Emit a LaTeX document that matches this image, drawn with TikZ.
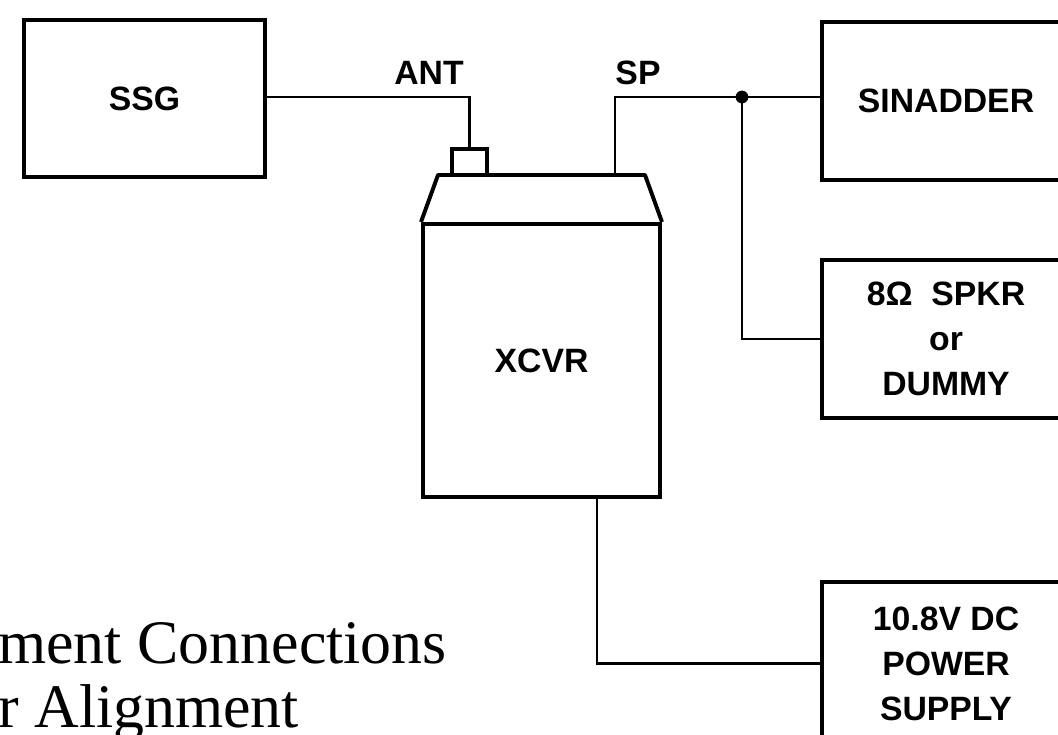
\documentclass[tikz,border=0pt]{standalone}
\usepackage{fontspec}
\setmainfont{Liberation Serif}
\setsansfont{Liberation Sans}

\begin{document}
\begin{tikzpicture}[
  x=0.025cm, y=-0.025cm,
  unit/.style={rectangle, draw, line width=3.2pt, inner sep=0pt,
               align=center, font=\sffamily\bfseries\fontsize{24}{32}\selectfont},
  wire/.style={line width=2pt},
  tag/.style={inner sep=0pt, font=\sffamily\bfseries\fontsize{24}{32}\selectfont},
  caption/.style={anchor=base west, inner sep=0pt, font=\fontsize{44}{50}\selectfont}
]
  \clip (0,0) rectangle (1058,735);
  \node[unit, minimum width=6.025cm, minimum height=3.925cm] (ssg) at (144.5,98.5) {SSG};
  \node[unit, minimum width=6.2cm, minimum height=3.95cm] (sin) at (946,101) {SINADDER};
  \node[unit, minimum width=6.2cm, minimum height=3.95cm] (spkr) at (946,339) {8Ω\ \ SPKR\\or\\DUMMY};
  \node[unit, minimum width=6.2cm, minimum height=4.075cm] (psu) at (946,663.5) {10.8V DC\\POWER\\SUPPLY};
  \node[unit, line width=2.8pt, minimum width=5.925cm, minimum height=6.825cm] (xcvr) at (541.5,360.5) {XCVR};
  \node[rectangle, draw, line width=2.4pt, minimum width=0.875cm, minimum height=0.65cm] (conn) at (469.5,162) {};
  \coordinate (topl) at (438,175);
  \coordinate (topr) at (645,175);
  \draw[line width=2.8pt, line join=round] (xcvr.north west) -- (topl) -- (topr) -- (xcvr.north east);
  \coordinate (spout) at (615,175);
  \coordinate (jct) at (742,97);
  \coordinate (pwrout) at (597,497);
  \draw[wire] (ssg.east |- 0,97) -| (conn.north);
  \draw[wire] (spout) |- (jct) -- (jct -| sin.west);
  \draw[wire] (jct) |- (spkr.west);
  \fill (jct) circle (0.16cm);
  \draw[wire] (pwrout) |- (psu.west);
  \node[tag] (ant) at (429,73) {ANT};
  \node[tag] (sp) at (638,73) {SP};
  \node[caption] (cap1) at (-2,663) {ment Connections};
  \node[caption] (cap2) at (-2,727) {r Alignment};
\end{tikzpicture}
\end{document}
